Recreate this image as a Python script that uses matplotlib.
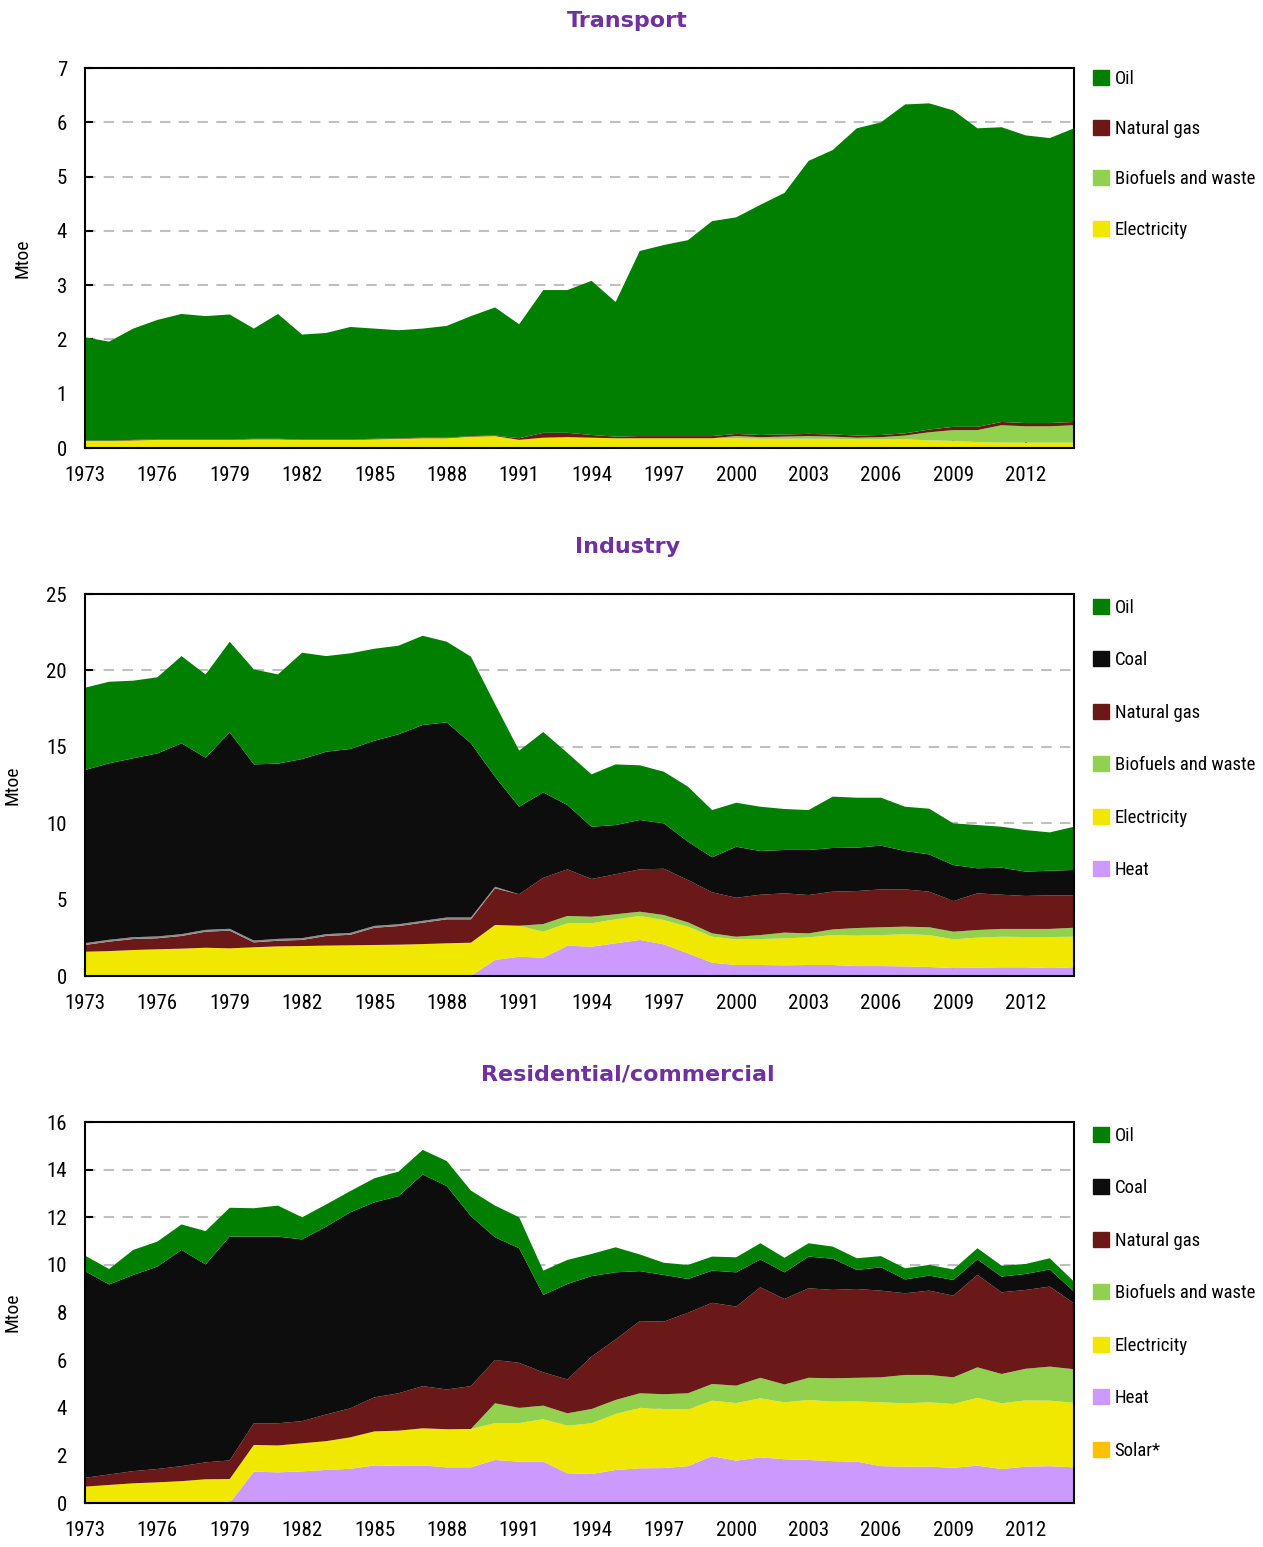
import numpy as np
import matplotlib
matplotlib.use('Agg')
import matplotlib.pyplot as plt
from matplotlib.patches import Patch

plt.rcParams['font.family'] = ['Roboto Condensed', 'DejaVu Sans Condensed', 'Roboto', 'DejaVu Sans']

years = np.arange(1973, 2015)

# Transport (Mtoe)
tr_electricity = [0.13, 0.13, 0.14, 0.15, 0.15, 0.15, 0.15, 0.16, 0.16, 0.15, 0.15, 0.15, 0.16, 0.17,
                  0.18, 0.18, 0.21, 0.22, 0.15, 0.19, 0.20, 0.19, 0.18, 0.18, 0.18, 0.18, 0.18, 0.18,
                  0.17, 0.17, 0.17, 0.17, 0.16, 0.16, 0.16, 0.14, 0.13, 0.11, 0.10, 0.10, 0.10, 0.10]
tr_biofuels = [0] * 27 + [0.04, 0.03, 0.04, 0.05, 0.04, 0.03, 0.04, 0.07, 0.15, 0.20, 0.22, 0.32,
                          0.30, 0.30, 0.32]
tr_gas = [0.01] * 18 + [0.03, 0.09, 0.08, 0.05, 0.03, 0.04, 0.04, 0.04, 0.04, 0.04, 0.04, 0.04,
                        0.04, 0.04, 0.04, 0.04, 0.04, 0.05, 0.06, 0.06, 0.06, 0.06, 0.06, 0.06]
tr_oil = [1.90, 1.82, 2.05, 2.20, 2.31, 2.27, 2.30, 2.03, 2.30, 1.93, 1.96, 2.07, 2.03, 1.99,
          2.01, 2.06, 2.21, 2.36, 2.10, 2.63, 2.63, 2.84, 2.48, 3.41, 3.52, 3.61, 3.96, 3.99,
          4.24, 4.45, 5.03, 5.24, 5.66, 5.76, 6.06, 6.01, 5.83, 5.50, 5.43, 5.30, 5.25, 5.41]

# Industry (Mtoe)
in_heat = [0] * 17 + [1.05, 1.26, 1.20, 1.98, 1.92, 2.14, 2.36, 2.07, 1.48, 0.87, 0.72, 0.72,
                      0.70, 0.72, 0.72, 0.65, 0.65, 0.63, 0.59, 0.52, 0.55, 0.57, 0.57, 0.52, 0.57]
in_electricity = [1.59, 1.63, 1.70, 1.75, 1.79, 1.85, 1.81, 1.88, 1.94, 1.96, 1.99, 2.01, 2.03,
                  2.05, 2.09, 2.14, 2.18, 2.29, 2.03, 1.70, 1.47, 1.53, 1.57, 1.57, 1.59, 1.75,
                  1.70, 1.68, 1.70, 1.76, 1.81, 1.96, 1.99, 2.03, 2.10, 2.09, 1.88, 1.96, 2.00,
                  1.98, 2.03, 2.00]
in_biofuels = [0] * 19 + [0.50, 0.48, 0.43, 0.33, 0.28, 0.33, 0.28, 0.22, 0.17, 0.26, 0.38, 0.26,
                          0.37, 0.50, 0.51, 0.50, 0.51, 0.50, 0.50, 0.51, 0.53, 0.53, 0.59]
in_gas = [0.44, 0.62, 0.72, 0.72, 0.83, 1.05, 1.16, 0.32, 0.37, 0.40, 0.63, 0.69, 1.13, 1.22,
          1.40, 1.57, 1.53, 2.40, 2.06, 3.03, 3.05, 2.47, 2.62, 2.77, 3.03, 2.77, 2.69, 2.55,
          2.64, 2.57, 2.51, 2.47, 2.42, 2.48, 2.44, 2.33, 2.01, 2.40, 2.24, 2.16, 2.20, 2.12]
in_other = [0.12] * 17 + [0.10] + [0] * 24
in_coal = [11.33, 11.55, 11.71, 11.98, 12.49, 11.27, 12.86, 11.53, 11.47, 11.72, 11.94, 12.04,
           12.12, 12.43, 12.82, 12.77, 11.40, 7.20, 5.73, 5.59, 4.21, 3.42, 3.22, 3.23, 2.97,
           2.51, 2.29, 3.34, 2.86, 2.84, 2.95, 2.86, 2.84, 2.86, 2.51, 2.44, 2.35, 1.64, 1.77,
           1.59, 1.61, 1.66]
in_oil = [5.39, 5.34, 5.08, 4.98, 5.71, 5.45, 5.93, 6.22, 5.84, 6.96, 6.26, 6.26, 6.02, 5.80,
          5.84, 5.28, 5.67, 4.76, 3.67, 3.95, 3.41, 3.43, 3.97, 3.58, 3.38, 3.60, 3.09, 2.88,
          2.90, 2.68, 2.61, 3.36, 3.27, 3.14, 2.90, 2.99, 2.73, 2.83, 2.68, 2.72, 2.51, 2.83]

# Residential/commercial (Mtoe)
rc_solar = [0] * 42
rc_heat = [0] * 7 + [1.32, 1.29, 1.33, 1.39, 1.44, 1.58, 1.57, 1.58, 1.50, 1.50, 1.81, 1.74,
                     1.74, 1.25, 1.22, 1.39, 1.46, 1.47, 1.55, 1.97, 1.78, 1.92, 1.84, 1.81,
                     1.76, 1.74, 1.55, 1.53, 1.53, 1.48, 1.57, 1.43, 1.53, 1.55, 1.50]
rc_electricity = [0.69, 0.76, 0.83, 0.87, 0.92, 1.00, 1.01, 1.12, 1.13, 1.18, 1.21, 1.32, 1.43,
                  1.47, 1.56, 1.60, 1.61, 1.55, 1.62, 1.78, 2.00, 2.13, 2.35, 2.54, 2.48, 2.39,
                  2.33, 2.42, 2.48, 2.39, 2.52, 2.50, 2.53, 2.68, 2.66, 2.70, 2.68, 2.85, 2.76,
                  2.78, 2.75, 2.71]
rc_biofuels = [0] * 17 + [0.83, 0.64, 0.57, 0.52, 0.60, 0.59, 0.61, 0.62, 0.67, 0.70, 0.73, 0.86,
                          0.75, 0.93, 0.98, 0.99, 1.05, 1.19, 1.15, 1.12, 1.28, 1.23, 1.33, 1.43,
                          1.41]
rc_gas = [0.37, 0.44, 0.51, 0.56, 0.63, 0.71, 0.78, 0.91, 0.93, 0.93, 1.12, 1.22, 1.43, 1.57,
          1.77, 1.67, 1.80, 1.82, 1.89, 1.40, 1.42, 2.20, 2.54, 3.03, 3.05, 3.38, 3.41, 3.32,
          3.80, 3.59, 3.76, 3.71, 3.73, 3.64, 3.43, 3.54, 3.43, 3.88, 3.43, 3.31, 3.36, 2.77]
rc_coal = [8.68, 7.98, 8.24, 8.50, 9.08, 8.31, 9.40, 7.84, 7.84, 7.63, 7.89, 8.23, 8.19, 8.28,
           8.89, 8.54, 7.14, 5.15, 4.81, 3.25, 4.01, 3.38, 2.82, 2.10, 1.96, 1.42, 1.35, 1.44,
           1.17, 1.12, 1.33, 1.31, 0.80, 0.98, 0.58, 0.63, 0.66, 0.65, 0.66, 0.67, 0.72, 0.49]
rc_oil = [0.65, 0.65, 1.05, 1.05, 1.07, 1.40, 1.21, 1.19, 1.30, 0.93, 0.93, 0.89, 1.01, 1.03,
          1.03, 1.05, 1.07, 1.33, 1.30, 1.02, 1.01, 0.93, 1.05, 0.70, 0.51, 0.59, 0.59, 0.63,
          0.68, 0.61, 0.56, 0.51, 0.49, 0.47, 0.47, 0.45, 0.44, 0.47, 0.46, 0.42, 0.47, 0.42]

colors = {'Oil': '#007F00', 'Coal': '#0D0D0D', 'Natural gas': '#6B1818',
          'Biofuels and waste': '#92D050', 'Electricity': '#F0E800', 'Heat': '#CC99FF',
          'Solar*': '#FFC000', 'Other': '#8C8C8C'}

panels = [
    ('Transport', [('Electricity', tr_electricity), ('Biofuels and waste', tr_biofuels),
                   ('Natural gas', tr_gas), ('Oil', tr_oil)], 7, 1,
     [0.0673, 0.7104, 0.783, 0.2456], 1.72, 1.03),
    ('Industry', [('Heat', in_heat), ('Electricity', in_electricity),
                  ('Biofuels and waste', in_biofuels), ('Natural gas', in_gas), ('Other', in_other),
                  ('Coal', in_coal), ('Oil', in_oil)], 25, 5,
     [0.0673, 0.3691, 0.783, 0.2469], 1.84, 1.022),
    ('Residential/commercial', [('Solar*', rc_solar), ('Heat', rc_heat),
                                ('Electricity', rc_electricity), ('Biofuels and waste', rc_biofuels),
                                ('Natural gas', rc_gas), ('Coal', rc_coal), ('Oil', rc_oil)],
     16, 2, [0.0673, 0.0284, 0.783, 0.2463], 1.84, 1.022),
]

fig = plt.figure(figsize=(12.63, 15.47), dpi=100)

for title, series, ymax, ystep, pos, lspace, lanchor in panels:
    ax = fig.add_axes(pos)
    names = [s[0] for s in series]
    vals = [s[1] for s in series]
    ax.stackplot(years, vals, colors=[colors[n] for n in names], linewidth=0)
    ax.set_xlim(1973, 2014)
    ax.set_ylim(0, ymax)
    ax.set_xticks(np.arange(1973, 2014, 3))
    ax.set_yticks(np.arange(0, ymax + 0.1, ystep))
    ax.set_axisbelow(True)
    ax.yaxis.grid(True, linestyle=(0, (5, 4)), color='#BFBFBF', linewidth=1.5)
    ax.tick_params(direction='in', length=6, width=1.5, labelsize=15)
    ax.tick_params(axis='x', pad=13)
    ax.tick_params(axis='y', pad=13)
    for sp in ax.spines.values():
        sp.set_linewidth(1.5)
    ax.set_ylabel('Mtoe', fontsize=14, labelpad=18)
    top = pos[1] + pos[3]
    fig.text(0.497, top + 0.0305, title, color='#7030A0', fontsize=16, fontweight='bold',
             family='DejaVu Sans', ha='center', va='center')
    handles = [Patch(color=colors[n], label=n) for n in names[::-1] if n != 'Other']
    ax.legend(handles=handles, loc='upper left', bbox_to_anchor=(1.006, lanchor), frameon=False,
              fontsize=13.5, handlelength=0.85, handleheight=0.85, handletextpad=0.3,
              labelspacing=lspace, borderaxespad=0.3)

fig.savefig('out.png', dpi=100)
